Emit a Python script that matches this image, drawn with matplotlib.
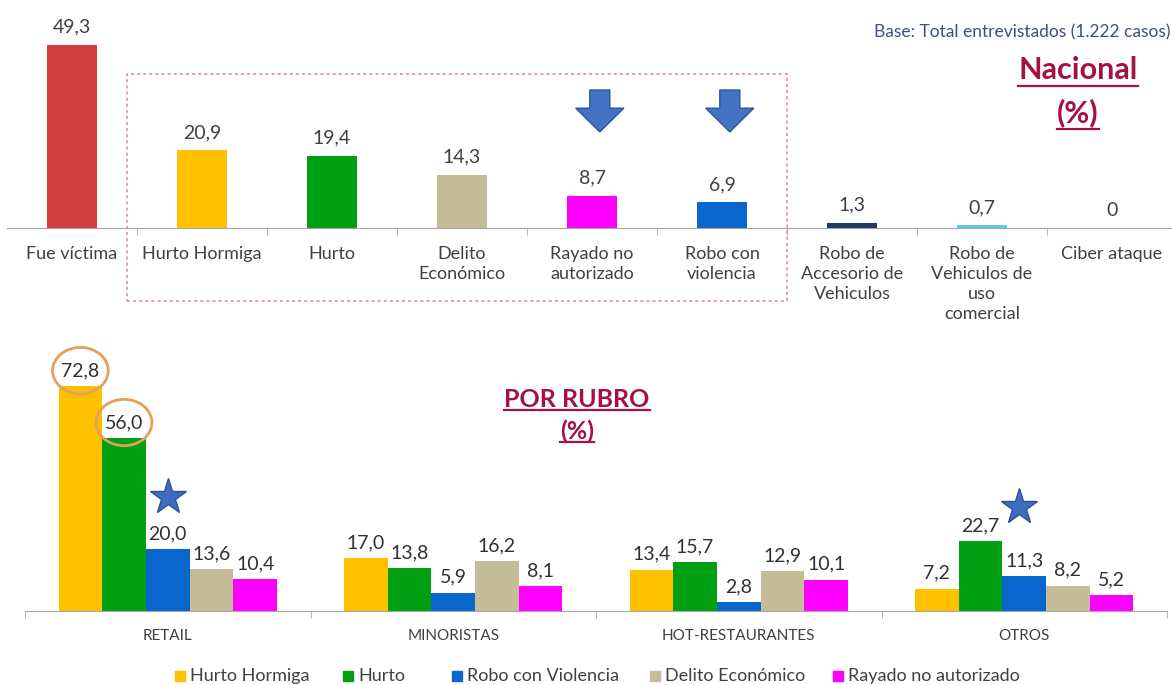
import matplotlib
matplotlib.use("Agg")
import matplotlib.pyplot as plt
from matplotlib.patches import Rectangle, Ellipse, Polygon
from matplotlib.lines import Line2D
import numpy as np

plt.rcParams['font.family'] = ['Lato', 'DejaVu Sans']

# ---- data: Nacional (%)
nat_labels = ['Fue víctima', 'Hurto Hormiga', 'Hurto', 'Delito\nEconómico',
              'Rayado no\nautorizado', 'Robo con\nviolencia',
              'Robo de\nAccesorio de\nVehiculos', 'Robo de\nVehiculos de\nuso\ncomercial',
              'Ciber ataque']
nat_values = [49.3, 20.9, 19.4, 14.3, 8.7, 6.9, 1.3, 0.7, 0]
nat_colors = ['#D14141', '#FFC000', '#00A012', '#C4BD97', '#FF00FF', '#0866CC',
              '#1F3864', '#5BC8EC', '#FFFFFF']
arrow_idx = [4, 5]

# ---- data: Por rubro (%)
rubros = ['RETAIL', 'MINORISTAS', 'HOT-RESTAURANTES', 'OTROS']
series = ['Hurto Hormiga', 'Hurto', 'Robo con Violencia', 'Delito Económico', 'Rayado no autorizado']
hurto_hormiga = [72.8, 17.0, 13.4, 7.2]
hurto = [56.0, 13.8, 15.7, 22.7]
robo_violencia = [20.0, 5.9, 2.8, 11.3]
delito = [13.6, 16.2, 12.9, 8.2]
rayado = [10.4, 8.1, 10.1, 5.2]
series_colors = ['#FFC000', '#00A012', '#0866CC', '#C4BD97', '#FF00FF']

fmt = lambda v: '0' if v == 0 else ('%.1f' % v).replace('.', ',')

W, H = 1172, 685
fig = plt.figure(figsize=(W / 100, H / 100), dpi=100)
px = lambda x: x / W
py = lambda y: 1 - y / H

txt = '#404040'
grid = '#A6A6A6'

# ================= top chart
ax1 = fig.add_axes([px(7), py(228), 1165 / W, 228 / H])
x = np.arange(len(nat_values))
ax1.bar(x, nat_values, width=0.39, color=nat_colors)
ax1.set_xlim(-0.5, -0.5 + 1165 / 130)
ax1.set_ylim(0, 228 / 3.71)
for s in ['top', 'left', 'right']:
    ax1.spines[s].set_visible(False)
ax1.spines['bottom'].set_color(grid)
ax1.set_yticks([])
ax1.set_xticks(x)
ax1.set_xticklabels(nat_labels, fontsize=13, color=txt, linespacing=1.3)
ax1.set_xticks(np.arange(0.5, 8, 1), minor=True)
ax1.tick_params(axis='x', which='major', length=0, pad=13)
ax1.tick_params(axis='x', which='minor', length=5, color=grid)
for i, v in enumerate(nat_values):
    ax1.text(i, v + 4.8, fmt(v), ha='center', va='center', fontsize=14, color=txt)

# dotted box around the crime types
ax1.add_patch(Rectangle((0.42, -19.7), 5.08, 61.2, fill=False, ec='#E8809A',
                        ls=(0, (2, 2)), lw=1.1, clip_on=False))

# blue arrows
for i in arrow_idx:
    c = i + 0.06
    ax1.add_patch(Polygon([(c - 0.077, 37.2), (c + 0.077, 37.2), (c + 0.077, 32.3),
                           (c + 0.185, 32.3), (c, 25.9), (c - 0.185, 32.3),
                           (c - 0.077, 32.3)], closed=True, fc='#4472C4', ec='#2F5597',
                          lw=1, clip_on=False))

# ================= bottom chart
ax2 = fig.add_axes([px(25), py(611), 1142 / W, 271 / H])
gx = np.arange(len(rubros))
bw = 0.153
all_series = [hurto_hormiga, hurto, robo_violencia, delito, rayado]
for k, vals in enumerate(all_series):
    xs = gx + (k - 2) * bw
    ax2.bar(xs, vals, width=bw, color=series_colors[k])
    for xi, v in zip(xs, vals):
        ax2.text(xi, v + 5, fmt(v), ha='center', va='center', fontsize=14, color='#2E3138')
ax2.set_xlim(-0.5, 3.5)
ax2.set_ylim(0, 271 / 3.09)
for s in ['top', 'left', 'right']:
    ax2.spines[s].set_visible(False)
ax2.spines['bottom'].set_color(grid)
ax2.set_yticks([])
ax2.set_xticks(gx)
ax2.set_xticklabels(rubros, fontsize=11, color=txt)
ax2.set_xticks(np.arange(-0.5, 4, 1), minor=True)
ax2.tick_params(axis='x', which='major', length=0, pad=13)
ax2.tick_params(axis='x', which='minor', length=5, color=grid)

# orange circles on the two top RETAIL values
for k in [0, 1]:
    v = all_series[k][0]
    ax2.add_patch(Ellipse((gx[0] + (k - 2) * bw, v + 5), 0.195, 15.0, fill=False,
                          ec='#E4A15A', lw=2, clip_on=False))

# stars
ax2.plot(gx[0], robo_violencia[0] + 17, marker='*', ms=27, color='#3C6DC0', mec='#2F528F')
ax2.plot(gx[3] - 0.02, hurto[3] + 11, marker='*', ms=27, color='#3C6DC0', mec='#2F528F')

# legend
leg_x = [175, 343, 452, 650, 833]
for lx, name, col in zip(leg_x, series, series_colors):
    fig.patches.append(Rectangle((px(lx), py(681)), 10 / W, 10 / H, color=col,
                                 transform=fig.transFigure, figure=fig))
    fig.text(px(lx + 15), py(676), name, fontsize=13, color=txt, va='center')

# ================= titles
title_col = '#A5123F'
titles = [
    fig.text(px(1078), py(79), 'Nacional', ha='center', va='baseline', fontsize=22,
             fontweight='bold', color=title_col),
    fig.text(px(1078), py(122), '(%)', ha='center', va='baseline', fontsize=22,
             fontweight='bold', color=title_col),
    fig.text(px(577), py(407), 'POR RUBRO', ha='center', va='baseline', fontsize=18,
             fontweight='bold', color=title_col),
    fig.text(px(577), py(439), '(%)', ha='center', va='baseline', fontsize=18,
             fontweight='bold', color=title_col),
]
fig.text(px(1170), py(32), 'Base: Total entrevistados (1.222 casos)', ha='right',
         va='center', fontsize=12.5, color='#3F4F80')

fig.canvas.draw()
r = fig.canvas.get_renderer()
for t, off in zip(titles, [7, 7, 3, 3]):
    bb = t.get_window_extent(renderer=r)
    base = t.get_position()[1] * H - off
    fig.add_artist(Line2D([bb.x0 / W, bb.x1 / W], [base / H, base / H],
                          transform=fig.transFigure, color=title_col, lw=1.6))

fig.savefig('out.png', dpi=100)
